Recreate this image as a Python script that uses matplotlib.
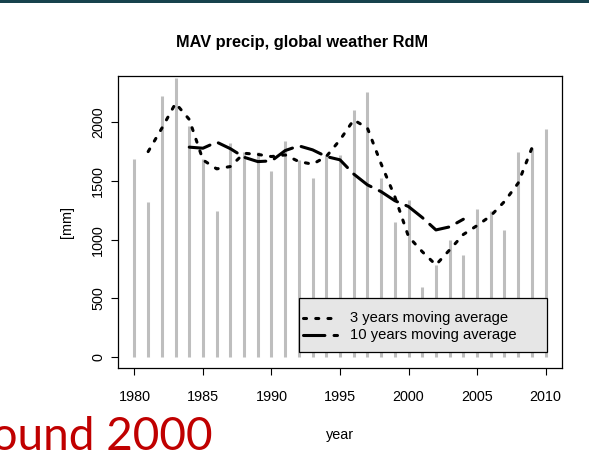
import matplotlib
matplotlib.use("Agg")
import matplotlib.pyplot as plt
from matplotlib.patches import Rectangle
from matplotlib.lines import Line2D

# ---- data -------------------------------------------------------------
years = list(range(1980, 2011))
precip = [1692, 1323, 2224, 2381, 1969, 1690, 1247, 1825, 1748, 1748,
          1584, 1839, 1677, 1530, 1720, 1720, 2109, 2259, 1522, 1153,
          1338, 600, 785, 997, 869, 1261, 1247, 1083, 1748, 1786, 1947]

ma3_years = list(range(1981, 2010))
ma3 = [1751, 1950, 2163, 2025, 1680, 1604, 1624, 1737, 1727, 1709,
       1723, 1666, 1644, 1709, 1851, 2021, 1952, 1647, 1368, 1027,
       899, 786, 914, 1045, 1121, 1204, 1326, 1482, 1780]

ma10_years = list(range(1984, 2005))
ma10 = [1789, 1780, 1832, 1776, 1703, 1666, 1672, 1760, 1800, 1766,
        1709, 1681, 1560, 1468, 1410, 1333, 1283, 1190, 1084, 1110, 1175]

x_ticks = [1980, 1985, 1990, 1995, 2000, 2005, 2010]
y_ticks = [0, 500, 1000, 1500, 2000]
legend_labels = ["3 years moving average", "10 years moving average"]

# ---- figure -----------------------------------------------------------
W, H = 589, 462
fig = plt.figure(figsize=(W / 100, H / 100), dpi=100)
fig.patch.set_facecolor("white")
plt.rcParams["font.family"] = ["Liberation Sans", "DejaVu Sans"]

# slide header rule
fig.add_artist(Rectangle((0, 1 - 2.5 / H), 1, 2.5 / H, transform=fig.transFigure,
                         facecolor="#17424d", edgecolor="none"))

ax = fig.add_axes([118 / W, (H - 368) / H, 444 / W, 292 / H])

ax.vlines(years, 0, precip, color="#bebebe", lw=2.2, zorder=1)

lw = 2.2
ax.plot(ma3_years, ma3, color="black", lw=lw, linestyle=(0, (1, 3)),
        dash_capstyle="round", zorder=3)
ax.plot(ma10_years, ma10, color="black", lw=lw, linestyle=(0, (7, 3)),
        dash_capstyle="round", zorder=3)

ax.set_xlim(1978.8, 2011.2)
ax.set_ylim(-92, 2395)
ax.set_xticks(x_ticks)
ax.set_yticks(y_ticks)
ax.tick_params(axis="x", length=5, width=0.8, pad=11, labelsize=10.4, colors="black")
ax.tick_params(axis="y", length=4.7, width=0.8, pad=4.5, labelsize=10.4,
               labelrotation=90, colors="black")
for lbl in ax.get_yticklabels():
    lbl.set_va("center")
for s in ax.spines.values():
    s.set_linewidth(0.9)
    s.set_color("black")

ax.set_title("MAV precip, global weather RdM", fontsize=11.8, fontweight="bold",
             pad=0, y=(H - 43) / H / 1.0, transform=fig.transFigure) if False else None
fig.text(302.5 / W, 1 - 43 / H, "MAV precip, global weather RdM", fontsize=11.8,
         fontweight="bold", ha="center", va="center")
fig.text(340 / W, 1 - 435 / H, "year", fontsize=10.4, ha="center", va="center")
fig.text(67 / W, 1 - 222 / H, "[mm]", fontsize=10.4, ha="center", va="center",
         rotation=90)

# legend box
x0, y0, bw, bh = 0.4077, 0.0548, 0.5586, 0.185
ax.add_patch(Rectangle((x0, y0), bw, bh, transform=ax.transAxes,
                       facecolor="#e6e6e6", edgecolor="black", lw=0.9, zorder=5))
rows = [0.1702, 0.1130]
styles = [(0, (1, 3)), (0, (7, 3))]
for yy, ls, lab in zip(rows, styles, legend_labels):
    ax.add_line(Line2D([0.4167, 0.4932], [yy, yy], transform=ax.transAxes,
                       color="black", lw=lw, linestyle=ls, dash_capstyle="round",
                       zorder=6))
    ax.text(0.5225, yy, lab, transform=ax.transAxes, fontsize=10.6,
            va="center", ha="left", zorder=6)

# slide caption
fig.text(213 / W, 1 - 450 / H, "around 2000", fontsize=33, color="#c00000",
         ha="right", va="baseline", family=["Lato", "DejaVu Sans"])

fig.savefig("out.png", dpi=100)
